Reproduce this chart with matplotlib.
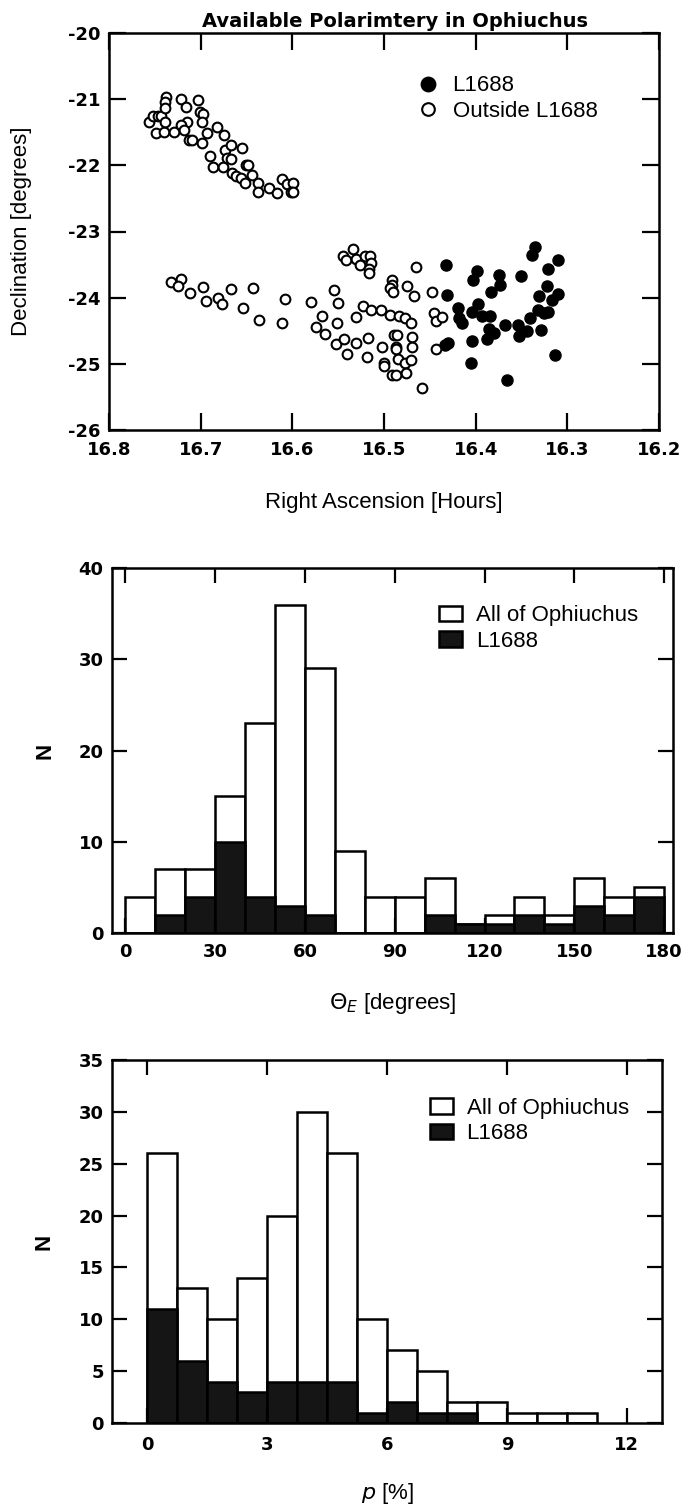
import numpy as np
import matplotlib
matplotlib.use("Agg")
import matplotlib.pyplot as plt

# ---- data ----
# L1688 (filled)
ra_in = [16.432, 16.431, 16.419, 16.418, 16.415, 16.433, 16.430, 16.405, 16.404, 16.404,
         16.403, 16.399, 16.398, 16.393, 16.383, 16.384, 16.386, 16.388, 16.380, 16.375,
         16.374, 16.368, 16.366, 16.354, 16.353, 16.351, 16.344, 16.341, 16.339, 16.335,
         16.331, 16.332, 16.329, 16.325, 16.322, 16.321, 16.321, 16.317, 16.314, 16.310,
         16.310]
dec_in = [-23.50, -23.96, -24.15, -24.31, -24.38, -24.71, -24.69, -24.98, -24.65, -24.21,
          -23.74, -23.60, -24.10, -24.28, -23.92, -24.27, -24.47, -24.62, -24.54, -23.65,
          -23.81, -24.41, -25.24, -24.41, -24.58, -23.68, -24.51, -24.31, -23.35, -23.23,
          -23.98, -24.19, -24.49, -24.23, -23.82, -23.56, -24.22, -24.04, -24.87, -23.43,
          -23.94]

# outside L1688 (open)
ra_out = [16.756, 16.752, 16.747, 16.743, 16.749, 16.740, 16.738, 16.739, 16.739, 16.739,
          16.729, 16.722, 16.716, 16.715, 16.721, 16.718, 16.713, 16.710, 16.703, 16.701,
          16.698, 16.699, 16.693, 16.699, 16.682, 16.675, 16.690, 16.687, 16.676, 16.674,
          16.667, 16.671, 16.667, 16.666, 16.661, 16.656, 16.652, 16.655, 16.651, 16.648,
          16.644, 16.637, 16.638, 16.626, 16.617, 16.611, 16.606, 16.599, 16.602, 16.599,
          16.732, 16.721, 16.725, 16.712, 16.697, 16.694, 16.681, 16.677, 16.667, 16.654,
          16.643, 16.636, 16.611, 16.608, 16.580, 16.568, 16.574, 16.564, 16.555, 16.550,
          16.551, 16.552, 16.544, 16.540, 16.531, 16.531, 16.523, 16.518, 16.514, 16.519,
          16.503, 16.502, 16.500, 16.500, 16.494, 16.491, 16.487, 16.487, 16.487, 16.489,
          16.486, 16.484, 16.477, 16.471, 16.485, 16.477, 16.476, 16.471, 16.469, 16.469,
          16.459, 16.475, 16.467, 16.448, 16.445, 16.443, 16.437, 16.443, 16.491, 16.491,
          16.494, 16.490, 16.465, 16.545, 16.541, 16.534, 16.531, 16.526, 16.521, 16.515,
          16.514, 16.516, 16.516]
dec_out = [-21.34, -21.26, -21.26, -21.25, -21.51, -21.50, -20.96, -21.04, -21.13, -21.34,
           -21.49, -21.00, -21.12, -21.34, -21.39, -21.46, -21.61, -21.61, -21.02, -21.19,
           -21.22, -21.34, -21.51, -21.66, -21.42, -21.54, -21.86, -22.03, -22.02, -21.77,
           -21.69, -21.89, -21.91, -22.11, -22.16, -22.19, -22.26, -21.74, -21.99, -21.99,
           -22.14, -22.26, -22.40, -22.35, -22.42, -22.21, -22.28, -22.27, -22.41, -22.41,
           -23.77, -23.72, -23.83, -23.93, -23.84, -24.05, -24.00, -24.10, -23.87, -24.15,
           -23.85, -24.33, -24.39, -24.02, -24.07, -24.28, -24.45, -24.55, -23.89, -24.08,
           -24.38, -24.70, -24.63, -24.85, -24.29, -24.68, -24.12, -24.61, -24.18, -24.89,
           -24.18, -24.75, -24.99, -25.03, -24.26, -25.17, -25.17, -24.74, -24.78, -24.56,
           -24.56, -24.28, -24.31, -24.39, -24.92, -24.99, -25.14, -24.94, -24.60, -24.74,
           -25.36, -23.83, -23.97, -23.92, -24.23, -24.36, -24.29, -24.77, -23.74, -23.81,
           -23.86, -23.91, -23.54, -23.37, -23.43, -23.26, -23.42, -23.50, -23.37, -23.37,
           -23.48, -23.57, -23.62]

# position-angle histogram, 10 degree bins
theta_left = np.arange(0, 180, 10)
theta_all = [4, 7, 7, 15, 23, 36, 29, 9, 4, 4, 6, 1, 2, 4, 2, 6, 4, 5]
theta_l1688 = [0, 2, 4, 10, 4, 3, 2, 0, 0, 0, 2, 1, 1, 2, 1, 3, 2, 4]

# polarization histogram, 0.75 % bins
p_left = np.arange(15) * 0.75
p_all = [26, 13, 10, 14, 20, 30, 26, 10, 7, 5, 2, 2, 1, 1, 1]
p_l1688 = [11, 6, 4, 3, 4, 4, 4, 1, 2, 1, 1, 0, 0, 0, 0]

# ---- figure ----
W, H = 683, 1506
fig = plt.figure(figsize=(W / 100, H / 100), dpi=100)

def box(l, t, r, b):
    return [l / W, 1 - b / H, (r - l) / W, (b - t) / H]

ax1 = fig.add_axes(box(109, 33, 659, 430))
ax2 = fig.add_axes(box(112, 568, 673, 933))
ax3 = fig.add_axes(box(112, 1060, 662, 1423))

labfont = dict(family="Liberation Sans", size=16)
legfont = dict(family="Liberation Sans", size=16)
dark = "#151515"

def frame(ax, ticklen, xpad, ypad):
    for s in ax.spines.values():
        s.set_linewidth(1.8)
    ax.tick_params(which="both", direction="in", top=True, right=True,
                   length=ticklen, width=1.6)
    ax.tick_params(axis="x", pad=xpad)
    ax.tick_params(axis="y", pad=ypad)
    for lab in ax.get_xticklabels() + ax.get_yticklabels():
        lab.set_fontfamily("DejaVu Sans")
        lab.set_fontweight("bold")
        lab.set_fontsize(13)

# scatter
ax1.plot(ra_in, dec_in, "o", ms=8, color="black", mec="black", label="L1688")
ax1.plot(ra_out, dec_out, "o", ms=7, mfc="white", mec="black", mew=1.5,
         label="Outside L1688")
ax1.set_xlim(16.8, 16.2)
ax1.set_ylim(-26, -20)
ax1.set_xticks(np.round(np.arange(16.8, 16.15, -0.1), 1))
ax1.set_xticklabels(["16.8", "16.7", "16.6", "16.5", "16.4", "16.3", "16.2"])
ax1.set_yticks(range(-26, -19))
ax1.set_yticklabels(["-26", "-25", "-24", "-23", "-22", "-21", "-20"])
frame(ax1, 12, 8, 6)
ax1.set_title("Available Polarimtery in Ophiuchus", family="DejaVu Sans",
              weight="bold", size=14, pad=4, x=0.52)
ax1.set_xlabel("Right Ascension [Hours]", **labfont)
ax1.xaxis.set_label_coords(0.5, -0.155)
ax1.set_ylabel("Declination [degrees]", **labfont)
ax1.yaxis.set_label_coords(-0.14, 0.5)
ax1.legend(loc="upper left", bbox_to_anchor=(0.56, 0.893), frameon=False,
           prop=legfont, handlelength=1.0, handletextpad=0.6,
           labelspacing=0.2, borderpad=0, borderaxespad=0, markerscale=1.3)

# theta histogram
ax2.bar(theta_left, theta_all, width=10, align="edge", color="white",
        edgecolor="black", linewidth=1.8, label="All of Ophiuchus")
ax2.bar(theta_left, theta_l1688, width=10, align="edge", color=dark,
        edgecolor="black", linewidth=1.8, label="L1688")
ax2.set_xlim(-4.5, 183)
ax2.set_ylim(0, 40)
ax2.set_xticks(range(0, 181, 30))
ax2.set_yticks(range(0, 41, 10))
frame(ax2, 11, 7, 6)
ax2.set_xlabel(r"$\Theta_E$ [degrees]", **labfont)
ax2.xaxis.set_label_coords(0.5, -0.16)
ax2.set_ylabel("N", family="Liberation Sans", weight="bold", size=16)
ax2.yaxis.set_label_coords(-0.1, 0.5)
ax2.legend(loc="upper left", bbox_to_anchor=(0.583, 0.898), frameon=False,
           prop=legfont, handlelength=1.05, handleheight=0.7,
           handletextpad=0.6, labelspacing=0.2, borderpad=0, borderaxespad=0)

# p histogram
ax3.bar(p_left, p_all, width=0.75, align="edge", color="white",
        edgecolor="black", linewidth=1.8, label="All of Ophiuchus")
ax3.bar(p_left, p_l1688, width=0.75, align="edge", color=dark,
        edgecolor="black", linewidth=1.8, label="L1688")
ax3.set_xlim(-0.88, 12.88)
ax3.set_ylim(0, 35)
ax3.set_xticks(range(0, 13, 3))
ax3.set_yticks(range(0, 36, 5))
frame(ax3, 11, 9, 6)
ax3.set_xlabel(r"$p$ [%]", **labfont)
ax3.xaxis.set_label_coords(0.5, -0.16)
ax3.set_ylabel("N", family="Liberation Sans", weight="bold", size=16)
ax3.yaxis.set_label_coords(-0.104, 0.5)
ax3.legend(loc="upper left", bbox_to_anchor=(0.578, 0.896), frameon=False,
           prop=legfont, handlelength=1.05, handleheight=0.7,
           handletextpad=0.6, labelspacing=0.2, borderpad=0, borderaxespad=0)

fig.savefig("out.png", dpi=100)
